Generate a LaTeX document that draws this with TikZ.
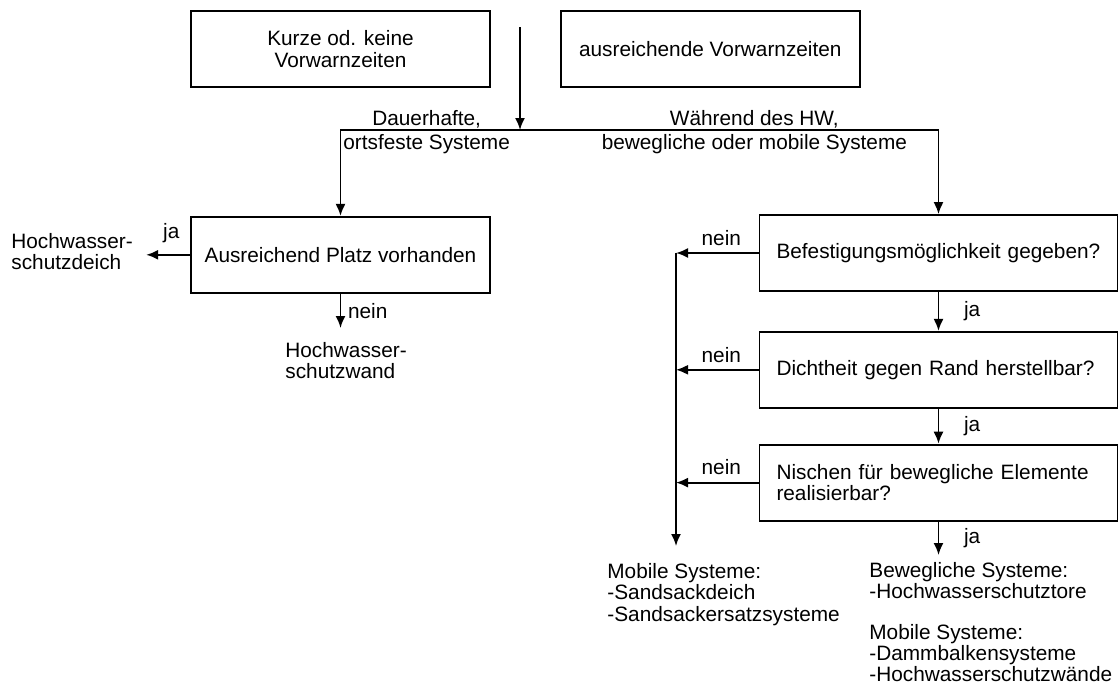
\documentclass[tikz,border=0pt]{standalone}
\usepackage{fontspec}
\setmainfont{Liberation Sans}
\usetikzlibrary{arrows.meta,positioning,calc}

\begin{document}
\begin{tikzpicture}[
  x=0.5pt, y=-0.5pt,
  font=\fontsize{10.4}{10.8}\selectfont,
  box/.style={draw, line width=0.9pt, minimum width=149.5pt, minimum height=38pt, align=center, inner sep=2pt},
  query/.style={draw, line width=0.9pt, text width=162pt, inner xsep=8.5pt, minimum height=38pt, align=left},
  plain/.style={align=left, inner xsep=0pt, anchor=north west},
  branch/.style={align=center, font=\fontsize{10.4}{12}\selectfont, yshift=-1pt},
  arrow/.style={-{Latex[length=6pt,width=5pt]}, line width=0.9pt}
]
\useasboundingbox (0,0) rectangle (1119,686);

\node[box] (kurze) at (340.5,49) {Kurze od. keine\\Vorwarnzeiten};
\node[box, right=34.5pt of kurze] (ausr) {ausreichende Vorwarnzeiten};
\node[box, below=64pt of kurze] (platz) {Ausreichend Platz vorhanden};
\node[query] (befest) at (938.5,253) {Befestigungsmöglichkeit gegeben?};
\node[query, below=19.5pt of befest] (dicht) {Dichtheit gegen Rand herstellbar?};
\node[query, below=17.5pt of dicht] (nischen) {Nischen für bewegliche Elemente\\realisierbar?};

\node[plain] (deich) at (11,226) {Hochwasser-\\schutzdeich};
\node[plain, inner ysep=6.8pt] (wand) at (285,328) {Hochwasser-\\schutzwand};
\node[plain] (mobil) at (607,556) {Mobile Systeme:\\-Sandsackdeich\\-Sandsackersatzsysteme};
\node[plain, font=\fontsize{10.4}{10.5}\selectfont] (bewegl) at (869,555) {Bewegliche Systeme:\\-Hochwasserschutztore\\[10pt]Mobile Systeme:\\-Dammbalkensysteme\\-Hochwasserschutzwände};

\coordinate (start) at (520,27);
\coordinate (split) at (520,130);
\coordinate (rail) at (676,546);

\draw[arrow] (start) -- (split);
\draw[arrow] (split) -| (platz) node[branch, pos=0.26] {Dauerhafte,\\ortsfeste Systeme};
\draw[arrow] (split) -| (befest) node[branch, pos=0.28] {Während des HW,\\bewegliche oder mobile Systeme};

\draw[arrow, shorten >=6.5pt] (platz.west) -- (platz.west -| deich.east) node[pos=0.33, above=2pt] {ja};
\draw[arrow] (platz.south) -- (platz.south |- wand.north) node[midway, right] {nein};

\draw[arrow] (befest) -- (dicht) node[midway, right=9pt] {ja};
\draw[arrow] (dicht) -- (nischen) node[midway, right=9pt] {ja};
\draw[arrow] (nischen.south) -- (nischen.south |- bewegl.north) node[midway, right=9pt] {ja};

\draw[arrow] (befest.west) -- (befest.west -| rail) node[midway, above, xshift=2pt] {nein};
\draw[arrow] (dicht.west) -- (dicht.west -| rail) node[midway, above, xshift=2pt] {nein};
\draw[arrow] (nischen.west) -- (nischen.west -| rail) node[midway, above, xshift=2pt] {nein};
\draw[arrow] (befest.west -| rail) -- (rail);
\end{tikzpicture}
\end{document}
